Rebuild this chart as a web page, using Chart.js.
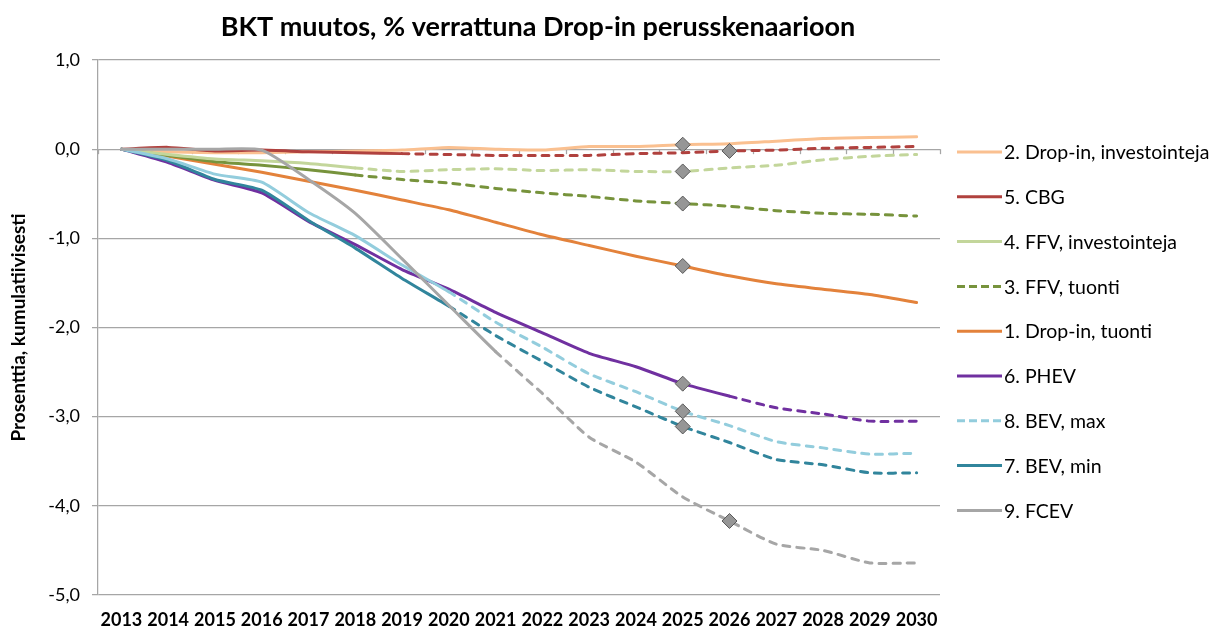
<!DOCTYPE html>
<html>
<head>
<meta charset="utf-8">
<script src="https://cdn.jsdelivr.net/npm/chart.js@4/dist/chart.umd.min.js"></script>
<style>
  html, body { margin: 0; padding: 0; background: #fff; }
  #wrap { position: relative; width: 1224px; height: 629px; }
</style>
</head>
<body>
<div id="wrap"><canvas id="c" width="1224" height="629"></canvas></div>
<script>
// ---- Data ----
const years = ['2013','2014','2015','2016','2017','2018','2019','2020','2021','2022','2023','2024','2025','2026','2027','2028','2029','2030'];

const dropInInvest = [0, -0.03, -0.04, -0.04, -0.03, -0.02, -0.01, 0.02, 0.00, -0.01, 0.03, 0.03, 0.05, 0.06, 0.09, 0.12, 0.13, 0.14];
const cbg          = [0, 0.02, -0.02, -0.01, -0.03, -0.04, -0.05, -0.06, -0.07, -0.07, -0.07, -0.05, -0.04, -0.02, -0.01, 0.01, 0.02, 0.03];
const ffvInvest    = [0, -0.06, -0.11, -0.13, -0.16, -0.21, -0.25, -0.23, -0.22, -0.24, -0.23, -0.25, -0.25, -0.21, -0.18, -0.12, -0.08, -0.06];
const ffvImport    = [0, -0.07, -0.14, -0.18, -0.23, -0.29, -0.34, -0.38, -0.44, -0.49, -0.53, -0.58, -0.61, -0.64, -0.69, -0.72, -0.73, -0.75];
const dropInImport = [0, -0.08, -0.17, -0.26, -0.36, -0.46, -0.57, -0.68, -0.82, -0.96, -1.08, -1.20, -1.31, -1.42, -1.51, -1.57, -1.63, -1.72];
const phev         = [0, -0.15, -0.35, -0.49, -0.81, -1.07, -1.35, -1.57, -1.83, -2.06, -2.29, -2.44, -2.63, -2.77, -2.90, -2.97, -3.05, -3.05];
const bevMax       = [0, -0.11, -0.28, -0.37, -0.71, -0.97, -1.30, -1.60, -1.94, -2.22, -2.52, -2.72, -2.94, -3.10, -3.28, -3.35, -3.42, -3.41];
const bevMin       = [0, -0.13, -0.34, -0.46, -0.80, -1.11, -1.45, -1.76, -2.09, -2.38, -2.67, -2.89, -3.11, -3.29, -3.48, -3.54, -3.63, -3.63];
const fcev         = [0, 0.00, 0.00, -0.01, -0.34, -0.72, -1.23, -1.75, -2.27, -2.74, -3.23, -3.51, -3.90, -4.17, -4.43, -4.50, -4.64, -4.64];

const seriesLabels = ['2. Drop-in, investointeja','5. CBG','4. FFV, investointeja','3. FFV, tuonti','1. Drop-in, tuonti','6. PHEV','8. BEV, max','7. BEV, min','9. FCEV'];
const seriesData   = [dropInInvest, cbg, ffvInvest, ffvImport, dropInImport, phev, bevMax, bevMin, fcev];
const markerYear   = ['2025','2026','2025','2025','2025','2025','2025','2025','2026'];

// ---- Styles ----
const seriesColors = ['#FAC090','#B0413E','#C3D69B','#77933C','#E3823B','#7030A0','#93CDDD','#31859C','#A6A6A6'];
const dashFromYear = [null,'2019','2018','2018',null,'2026','2020','2020','2021'];
const legendDashed = [false,false,false,true,false,false,true,false,false];
const drawOrder    = [8,5,6,7,9,4,2,3,1]; // lower = on top
const DASH = [7,7];
const FONT = 'Lato, "Open Sans", sans-serif';

const datasets = seriesLabels.map((label, i) => {
  const dashIdx = dashFromYear[i] ? years.indexOf(dashFromYear[i]) : Infinity;
  const mIdx = years.indexOf(markerYear[i]);
  return {
    label,
    data: seriesData[i],
    borderColor: seriesColors[i],
    backgroundColor: seriesColors[i],
    borderWidth: 3,
    borderCapStyle: 'round',
    borderJoinStyle: 'round',
    tension: 0.2,
    order: drawOrder[i],
    segment: {
      borderDash: ctx => ctx.p0DataIndex >= dashIdx ? DASH : undefined
    },
    pointStyle: 'rectRot',
    pointRadius: ctx => ctx.dataIndex === mIdx ? 7.5 : 0,
    pointHoverRadius: ctx => ctx.dataIndex === mIdx ? 7.5 : 0,
    pointBackgroundColor: '#969696',
    pointBorderColor: '#595959',
    pointBorderWidth: 1
  };
});

// Title plugin
const titlePlugin = {
  id: 'titlePlugin',
  afterDraw(chart) {
    const ctx = chart.ctx;
    ctx.save();
    ctx.font = 'bold 27px ' + FONT;
    ctx.fillStyle = '#000';
    ctx.textAlign = 'center';
    ctx.textBaseline = 'middle';
    ctx.fillText('BKT muutos, % verrattuna Drop-in perusskenaarioon', 538, 27);
    ctx.restore();
  }
};

// Tick marks on the horizontal axis crossing at 0
const zeroAxisTicks = {
  id: 'zeroAxisTicks',
  beforeDatasetsDraw(chart) {
    const xs = chart.scales.x, ys = chart.scales.y;
    const y0 = ys.getPixelForValue(0);
    const half = (xs.getPixelForValue(1) - xs.getPixelForValue(0)) / 2;
    const ctx = chart.ctx;
    ctx.save();
    ctx.strokeStyle = '#A6A6A6';
    ctx.lineWidth = 1.25;
    for (let i = 0; i <= years.length; i++) {
      const x = Math.round(xs.getPixelForValue(i) - half) + 0.5;
      ctx.beginPath();
      ctx.moveTo(x, y0);
      ctx.lineTo(x, y0 + 5);
      ctx.stroke();
    }
    ctx.restore();
  }
};

// Legend plugin
const legendOrder = [0,1,2,3,4,5,6,7,8];
const legendPlugin = {
  id: 'legendPlugin',
  afterDraw(chart) {
    const ctx = chart.ctx;
    const ca = chart.chartArea;
    const x0 = ca.right + 17;
    ctx.save();
    ctx.font = '19.5px ' + FONT;
    ctx.textBaseline = 'middle';
    ctx.textAlign = 'left';
    legendOrder.forEach((si, k) => {
      const y = ca.top + 92 + k * 44.8;
      ctx.strokeStyle = seriesColors[si];
      ctx.lineWidth = 3;
      ctx.lineCap = 'butt';
      ctx.setLineDash(legendDashed[si] ? [8,4] : []);
      ctx.beginPath();
      ctx.moveTo(x0, y);
      ctx.lineTo(x0 + 45, y);
      ctx.stroke();
      ctx.setLineDash([]);
      ctx.fillStyle = '#000';
      ctx.fillText(seriesLabels[si], x0 + 47, y + 1);
    });
    ctx.restore();
  }
};

new Chart(document.getElementById('c'), {
  type: 'line',
  data: { labels: years, datasets },
  options: {
    responsive: false,
    animation: false,
    devicePixelRatio: 1,
    layout: { padding: { top: 60, right: 284, left: 0, bottom: 0 } },
    plugins: {
      legend: { display: false },
      title: { display: false },
      tooltip: { enabled: false }
    },
    scales: {
      x: {
        type: 'category',
        offset: true,
        grid: { display: false, drawTicks: false },
        border: { display: false },
        ticks: {
          color: '#000',
          font: { family: FONT, size: 18, weight: 'bold' },
          padding: 14,
          maxRotation: 0,
          autoSkip: false
        },
        afterFit(scale) { scale.height = 34; }
      },
      y: {
        min: -5,
        max: 1,
        ticks: {
          stepSize: 1,
          color: '#000',
          font: { family: FONT, size: 18 },
          padding: 12,
          callback: v => v.toFixed(1).replace('.', ',')
        },
        grid: { color: '#A6A6A6', lineWidth: 1.25, tickLength: 6, drawTicks: true },
        border: { color: '#A6A6A6', width: 1.25 },
        title: {
          display: true,
          text: 'Prosenttia, kumulatiivisesti',
          color: '#000',
          font: { family: FONT, size: 19, weight: 'bold' },
          padding: { top: 7, bottom: 0 }
        },
        afterFit(scale) { scale.width = 98; }
      }
    }
  },
  plugins: [titlePlugin, zeroAxisTicks, legendPlugin]
});
</script>
</body>
</html>
